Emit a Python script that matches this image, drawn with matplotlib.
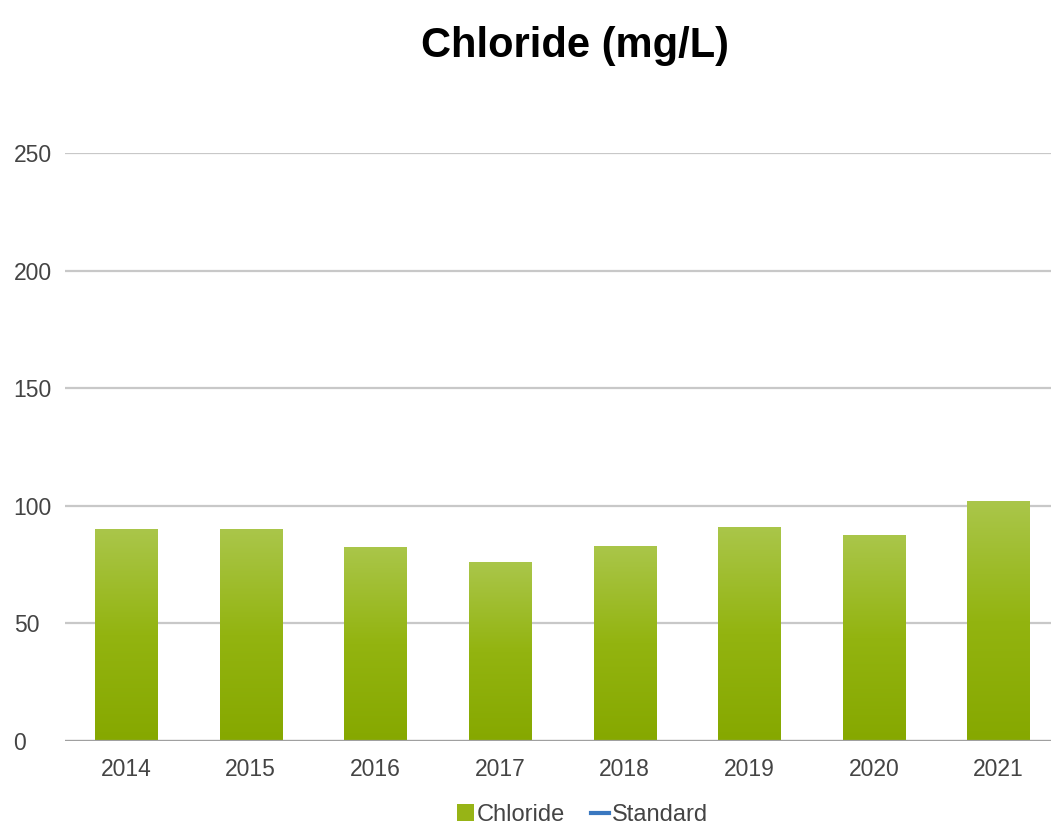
import numpy as np
import matplotlib.pyplot as plt
from matplotlib.colors import LinearSegmentedColormap
from matplotlib.lines import Line2D
from matplotlib.patches import Patch

years = ["2014", "2015", "2016", "2017", "2018", "2019", "2020", "2021"]
chloride = [90, 90, 82.5, 76, 83, 91, 87.5, 102]
y_ticks = [0, 50, 100, 150, 200, 250]

plt.rcParams['font.family'] = ['Liberation Sans', 'DejaVu Sans']

fig = plt.figure(figsize=(10.51, 8.27), dpi=100)
ax = fig.add_axes([65 / 1051, 1 - 741 / 827, 1 - 65 / 1051, (741 - 153) / 827])

x = np.arange(len(years))
bars = ax.bar(x, chloride, width=0.5, color="#97b416", zorder=3)

# vertical gradient inside each bar
grad_cmap = LinearSegmentedColormap.from_list("g", ["#86a800", "#93b410", "#aac64a"])
grad = np.linspace(0, 1, 256).reshape(-1, 1)
for b in bars:
    bx, by = b.get_x(), b.get_y()
    w, h = b.get_width(), b.get_height()
    im = ax.imshow(grad, cmap=grad_cmap, origin="lower", aspect="auto",
                   extent=[bx, bx + w, by, by + h], zorder=3)
    im.set_clip_path(b)
    b.set_facecolor("none")

ax.set_xlim(-0.49, 7.42)
ax.set_ylim(0, 250)
ax.set_yticks(y_ticks)
ax.set_xticks(x)
ax.set_xticklabels(years)
ax.yaxis.grid(True, color="#c8c8c8", linewidth=1.6, zorder=0)
ax.axhline(0, color="#a0a0a0", linewidth=1.6, zorder=4)
for s in ax.spines.values():
    s.set_visible(False)
ax.tick_params(length=0, labelsize=16.5, colors="#444444")
ax.tick_params(axis="x", pad=12)
ax.tick_params(axis="y", pad=37)
for lbl in ax.get_yticklabels():
    lbl.set_horizontalalignment("left")

fig.text(0.547, 0.944, "Chloride (mg/L)", ha="center", va="center",
         fontsize=30, fontweight="bold", color="#000000")

handles = [Patch(facecolor="#97b416", edgecolor="none", label="Chloride"),
           Line2D([0], [0], color="#3a78c0", linewidth=3, label="Standard")]
fig.legend(handles=handles, loc="center", bbox_to_anchor=(0.554, 0.0145),
           ncol=2, frameon=False, fontsize=17, handlelength=0.75,
           handletextpad=0.12, columnspacing=1.1, labelcolor="#444444",
           handleheight=0.75)

fig.savefig("out.png", dpi=100, facecolor="white")
